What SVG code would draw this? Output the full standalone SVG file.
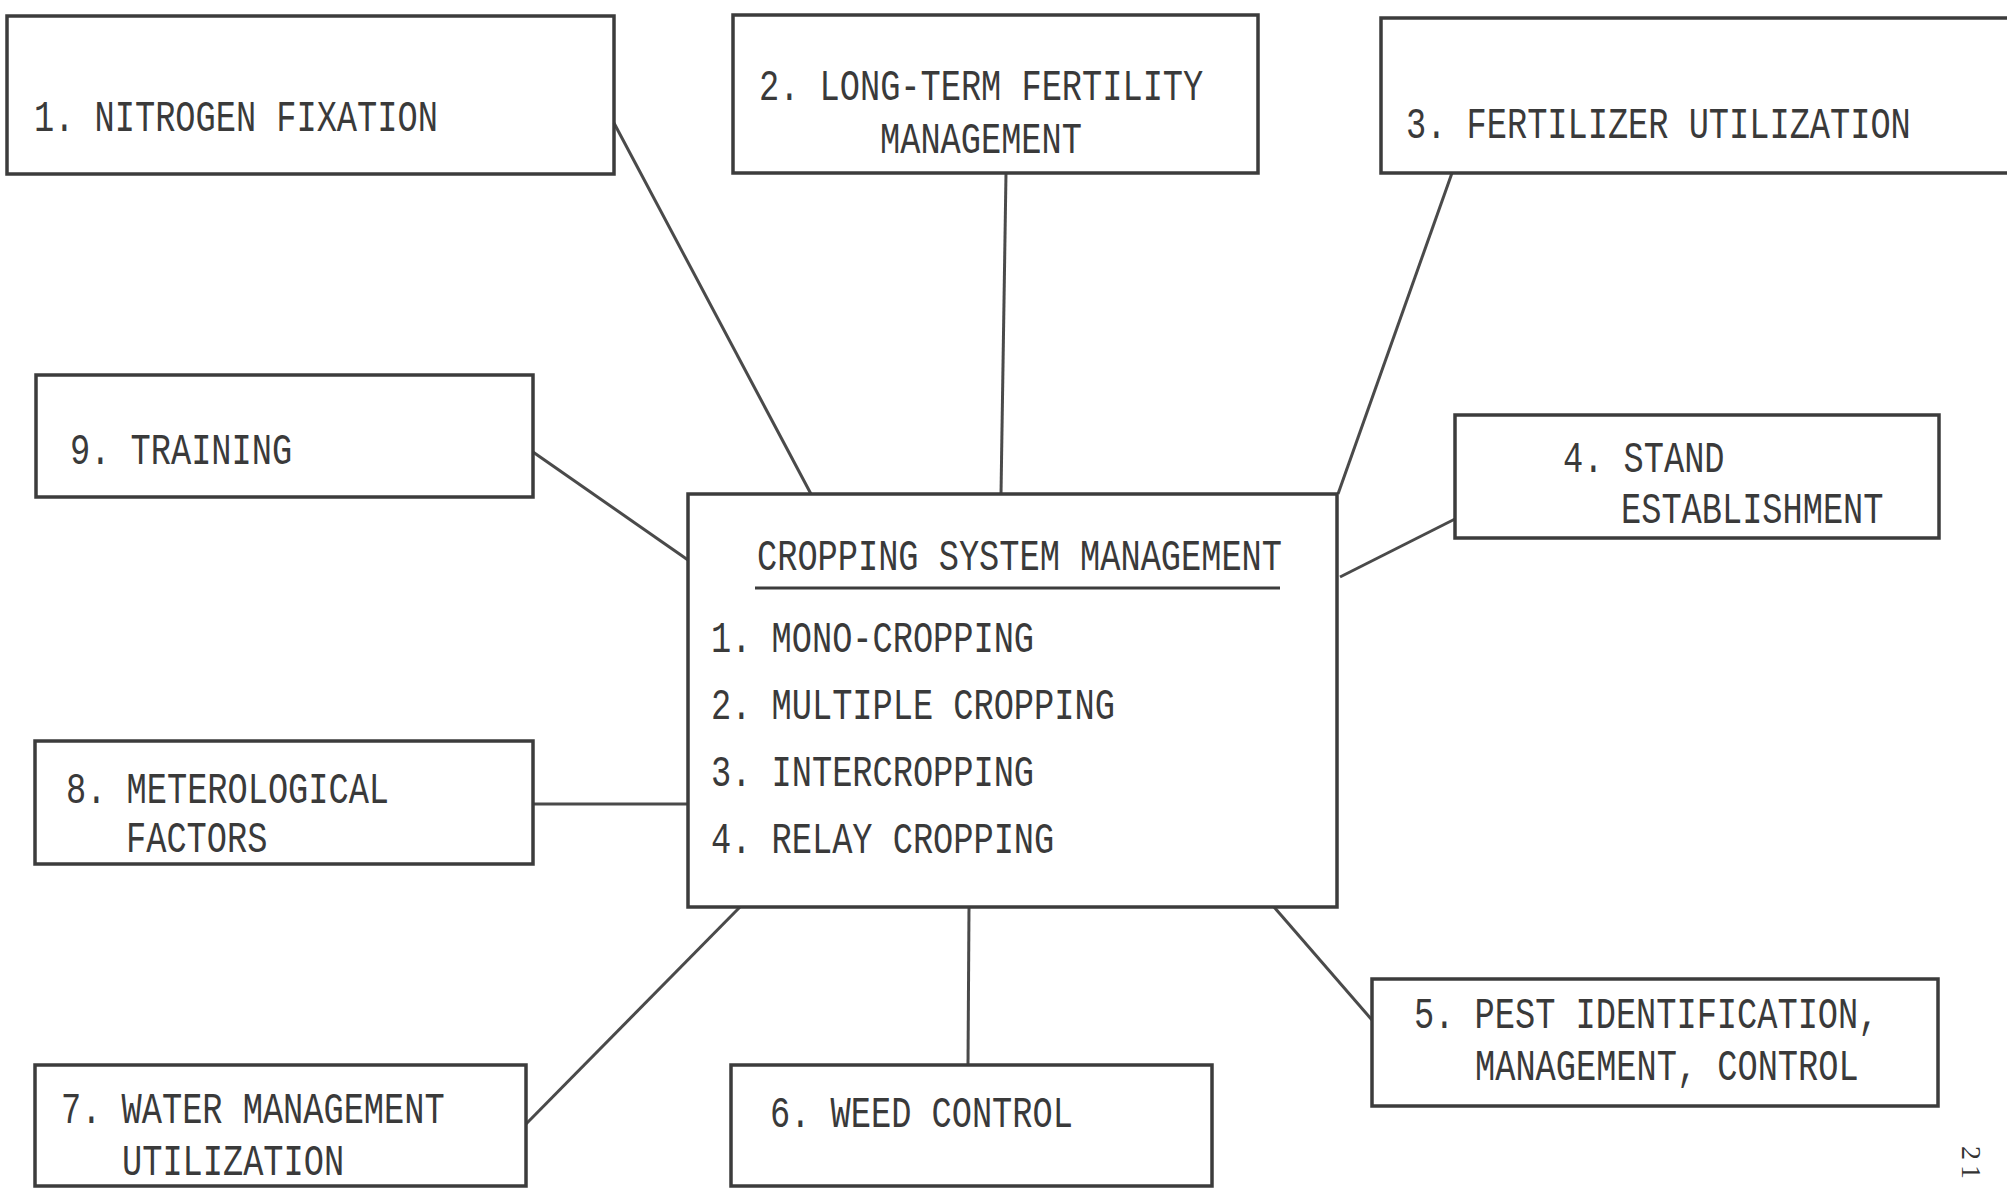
<svg xmlns="http://www.w3.org/2000/svg" width="2007" height="1189" viewBox="0 0 2007 1189">
<style>
.box{fill:none;stroke:#3c3c3c;stroke-width:3.5}
.ln{stroke:#4a4a4a;stroke-width:3;fill:none}
.t{font-family:"Liberation Mono","DejaVu Sans Mono",monospace;font-size:44px;fill:#3a3a3a}
.pg{font-family:"Liberation Serif",serif;font-size:28px;fill:#333}
</style>
<rect width="2007" height="1189" fill="#fff"/>
<g id="connectors">
<line class="ln" x1="614" y1="123" x2="811" y2="494"/>
<line class="ln" x1="1006" y1="173" x2="1001" y2="494"/>
<line class="ln" x1="1452" y1="173" x2="1338" y2="494"/>
<line class="ln" x1="1455" y1="519" x2="1340" y2="577"/>
<line class="ln" x1="533" y1="452" x2="688" y2="560"/>
<line class="ln" x1="533" y1="804" x2="688" y2="804"/>
<line class="ln" x1="526" y1="1124" x2="740" y2="907"/>
<line class="ln" x1="969" y1="907" x2="968" y2="1065"/>
<line class="ln" x1="1274" y1="907" x2="1372" y2="1020"/>
</g>
<g id="center">
<rect class="box" x="688" y="494" width="649" height="413"/>
<text class="t" transform="translate(757,570) scale(0.765,1)">CROPPING SYSTEM MANAGEMENT</text>
<line x1="755" y1="588" x2="1280" y2="588" stroke="#3c3c3c" stroke-width="3"/>
<text class="t" transform="translate(711,652) scale(0.765,1)">1. MONO-CROPPING</text>
<text class="t" transform="translate(711,719) scale(0.765,1)">2. MULTIPLE CROPPING</text>
<text class="t" transform="translate(711,786) scale(0.765,1)">3. INTERCROPPING</text>
<text class="t" transform="translate(711,853) scale(0.765,1)">4. RELAY CROPPING</text>
</g>
<g id="n1">
<rect class="box" x="7" y="16" width="607" height="158"/>
<text class="t" transform="translate(34,131) scale(0.765,1)">1. NITROGEN FIXATION</text>
</g>
<g id="n2">
<rect class="box" x="733" y="15" width="525" height="158"/>
<text class="t" transform="translate(759,100) scale(0.765,1)">2. LONG-TERM FERTILITY</text>
<text class="t" transform="translate(880,153) scale(0.765,1)">MANAGEMENT</text>
</g>
<g id="n3">
<rect class="box" x="1381" y="18" width="640" height="155"/>
<text class="t" transform="translate(1406,138) scale(0.765,1)">3. FERTILIZER UTILIZATION</text>
</g>
<g id="n4">
<rect class="box" x="1455" y="415" width="484" height="123"/>
<text class="t" transform="translate(1563,472) scale(0.765,1)">4. STAND</text>
<text class="t" transform="translate(1621,523) scale(0.765,1)">ESTABLISHMENT</text>
</g>
<g id="n5">
<rect class="box" x="1372" y="979" width="566" height="127"/>
<text class="t" transform="translate(1414,1028) scale(0.765,1)">5. PEST IDENTIFICATION,</text>
<text class="t" transform="translate(1475,1080) scale(0.765,1)">MANAGEMENT, CONTROL</text>
</g>
<g id="n6">
<rect class="box" x="731" y="1065" width="481" height="121"/>
<text class="t" transform="translate(770,1127) scale(0.765,1)">6. WEED CONTROL</text>
</g>
<g id="n7">
<rect class="box" x="35" y="1065" width="491" height="121"/>
<text class="t" transform="translate(61,1123) scale(0.765,1)">7. WATER MANAGEMENT</text>
<text class="t" transform="translate(122,1175) scale(0.765,1)">UTILIZATION</text>
</g>
<g id="n8">
<rect class="box" x="35" y="741" width="498" height="123"/>
<text class="t" transform="translate(66,803) scale(0.765,1)">8. METEROLOGICAL</text>
<text class="t" transform="translate(126,852) scale(0.765,1)">FACTORS</text>
</g>
<g id="n9">
<rect class="box" x="36" y="375" width="497" height="122"/>
<text class="t" transform="translate(70,464) scale(0.765,1)">9. TRAINING</text>
</g>
<text class="pg" transform="translate(1962,1146) rotate(90)" letter-spacing="5">21</text>
</svg>
